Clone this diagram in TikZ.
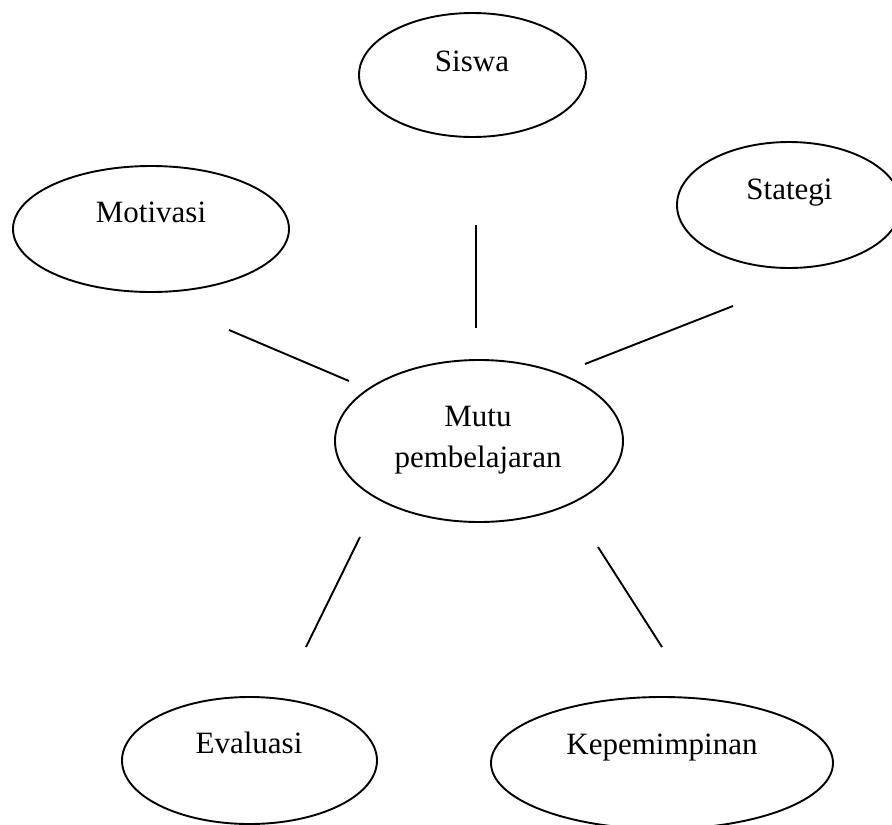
\documentclass[tikz,border=0pt]{standalone}
\usepackage{fontspec}
\setmainfont{Liberation Serif}
\usetikzlibrary{shapes.geometric}
\begin{document}
\begin{tikzpicture}[x=1pt,y=-1pt,
  bubble/.style={draw=black,line width=1.9pt,ellipse,inner sep=0pt},
  lbl/.style={inner sep=0pt,font=\fontsize{31}{41}\selectfont,align=center},
  link/.style={draw=black,line width=1.9pt}]
\useasboundingbox (0,0) rectangle (892,825);
\clip (0,0) rectangle (892,825);
% ellipses
\node[bubble,minimum width=227pt,minimum height=124pt] (siswa) at (472.5,75) {};
\node[bubble,minimum width=276pt,minimum height=126pt] (motivasi) at (151,229) {};
\node[bubble,minimum width=224pt,minimum height=126pt] (stategi) at (789,205) {};
\node[bubble,minimum width=288pt,minimum height=162pt] (mutu) at (479,441) {};
\node[bubble,minimum width=255pt,minimum height=127pt] (evaluasi) at (249.5,760.5) {};
\node[bubble,minimum width=342pt,minimum height=132pt] (kepemimpinan) at (662,763) {};
% texts
\node[lbl,anchor=base] (tsiswa) at (472,71) {Siswa};
\node[lbl,anchor=base] (tmotivasi) at (151,222) {Motivasi};
\node[lbl,anchor=base] (tstategi) at (789.5,199) {Stategi};
\node[lbl] (tmutu) at (478,440) {Mutu\\pembelajaran};
\node[lbl,anchor=base] (tevaluasi) at (249,753) {Evaluasi};
\node[lbl,anchor=base] (tkepemimpinan) at (662,754) {Kepemimpinan};
% free-standing connector lines
\coordinate (a1) at (476,225); \coordinate (a2) at (476,328);
\coordinate (b1) at (229,330); \coordinate (b2) at (349,381);
\coordinate (c1) at (733,306); \coordinate (c2) at (585,364);
\coordinate (d1) at (360,537); \coordinate (d2) at (306,647);
\coordinate (e1) at (598,547); \coordinate (e2) at (662,647);
\draw[link] (a1) -- (a2);
\draw[link] (b1) -- (b2);
\draw[link] (c1) -- (c2);
\draw[link] (d1) -- (d2);
\draw[link] (e1) -- (e2);
\end{tikzpicture}
\end{document}
